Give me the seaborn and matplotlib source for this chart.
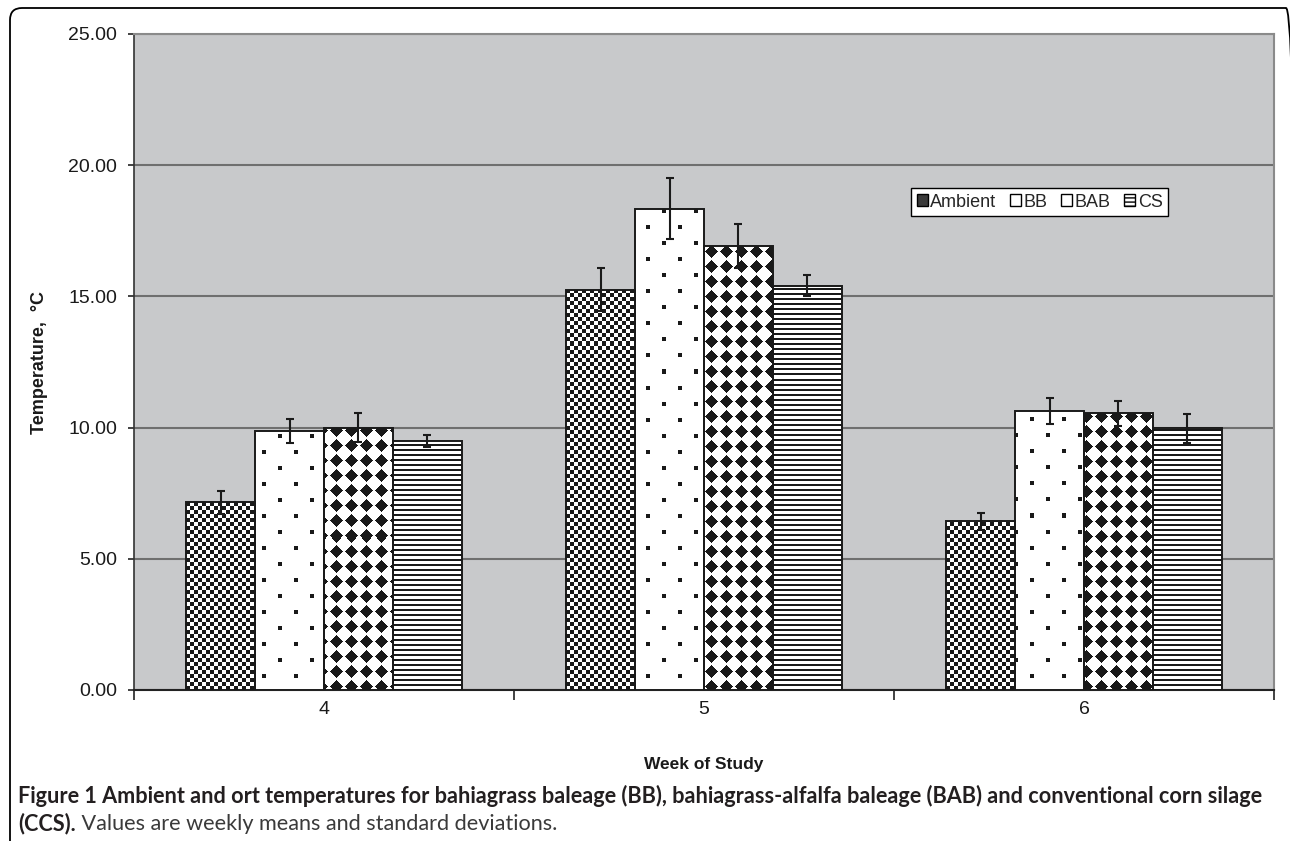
import numpy as np
import pandas as pd
import matplotlib.pyplot as plt
import matplotlib.transforms as mtransforms
import seaborn as sns
from matplotlib.patches import FancyBboxPatch, Patch

weeks = ['4', '5', '6']
series = ['Ambient', 'BB', 'BAB', 'CS']
ambient = [7.15, 15.26, 6.43]
bb = [9.87, 18.34, 10.64]
bab = [9.99, 16.91, 10.55]
cs = [9.48, 15.41, 9.97]
ambient_sd = [0.44, 0.82, 0.32]
bb_sd = [0.44, 1.17, 0.49]
bab_sd = [0.55, 0.84, 0.48]
cs_sd = [0.22, 0.40, 0.54]

df = pd.DataFrame({
    'week': weeks * 4,
    'series': np.repeat(series, 3),
    'temp': ambient + bb + bab + cs,
})
sd_map = dict(zip(series, [ambient_sd, bb_sd, bab_sd, cs_sd]))

sns.set_theme(style='white')
plt.rcParams['font.family'] = ['Liberation Sans', 'DejaVu Sans']

fig = plt.figure(figsize=(12.9, 8.41), dpi=100)
ax = fig.add_axes([134 / 1290, 1 - 690 / 841, 1140 / 1290, 656 / 841])

sns.barplot(data=df, x='week', y='temp', hue='series', order=weeks,
            hue_order=series, errorbar=None, width=0.725,
            palette={s: 'white' for s in series}, saturation=1,
            edgecolor='#1a1a1a', linewidth=1.4, legend=False, ax=ax, zorder=3)

# fill patterns (Excel style), drawn pixel by pixel and clipped to each bar
H, W = 656, 1140
yy, xx = np.indices((H, W))
masks = {
    'Ambient': ((xx // 4 + yy // 4) % 2 == 0),
    'BB': (((xx % 32) < 4) & ((yy % 32) < 4)) | ((((xx + 16) % 32) < 4) & (((yy + 16) % 32) < 4)),
    'BAB': (np.abs((xx % 15) - 7) + np.abs((yy % 15) - 7)) <= 6,
    'CS': (yy % 5) < 2,
}

for name, cont in zip(series, ax.containers):
    img = np.ones((H, W, 3))
    img[masks[name]] = 0.1
    for p in cont:
        im = ax.imshow(img, extent=(-0.5, 2.5, 0, 25), origin='upper',
                       aspect='auto', interpolation='nearest', zorder=2.9)
        im.set_clip_path(p)
        p.set_facecolor('none')
        xc = p.get_x() + p.get_width() / 2
        i = int(round(xc))
        ax.errorbar(xc, p.get_height(), yerr=sd_map[name][i], fmt='none',
                    ecolor='#1a1a1a', elinewidth=1.5, capsize=3, capthick=1.5,
                    zorder=4)

ax.set_xlim(-0.5, 2.5)
ax.set_ylim(0, 25)
ax.set_facecolor('#c8c9cb')

yt = np.arange(0, 26, 5)
ax.set_yticks(yt)
ax.set_yticklabels([f'{v:.2f}' for v in yt])
ax.yaxis.grid(True, color='#6f6f6f', lw=1.5)
ax.xaxis.grid(False)
ax.set_axisbelow(True)

ax.set_xticks([0, 1, 2])
ax.set_xticklabels(weeks)
ax.set_xticks([-0.5, 0.5, 1.5, 2.5], minor=True)
ax.tick_params(axis='x', which='major', length=0, pad=8, labelsize=14, labelcolor='#1a1a1a')
ax.tick_params(axis='x', which='minor', length=7, width=1.2, direction='out', color='#222', bottom=True)
ax.tick_params(axis='y', length=4.3, width=1.2, direction='out', color='#222', pad=8,
               labelsize=14, labelcolor='#1a1a1a', left=True)

for s in ['top', 'right']:
    ax.spines[s].set_color('#8a8a8a')
    ax.spines[s].set_linewidth(1.5)
ax.spines['left'].set_color('#333333')
ax.spines['left'].set_linewidth(1.2)
ax.spines['bottom'].set_color('#222222')
ax.spines['bottom'].set_linewidth(1.5)

ax.set_xlabel('Week of Study', fontsize=12.5, weight='bold', color='#1a1a1a', va='center')
ax.xaxis.set_label_coords(0.5, -0.114)
ax.set_ylabel('Temperature,  \u00b0C', fontsize=13, weight='bold', color='#1a1a1a', va='center')
ax.yaxis.set_label_coords(-0.0825, 0.5)

handles = [
    Patch(facecolor='#3a3a3a', edgecolor='black', lw=1),
    Patch(facecolor='white', edgecolor='black', lw=1),
    Patch(facecolor='white', edgecolor='black', lw=1),
    Patch(facecolor='white', edgecolor='black', lw=1, hatch='----'),
]
leg = ax.legend(handles, series, ncol=4, loc='upper left', bbox_to_anchor=(0.682, 0.765),
                borderaxespad=0, frameon=True, fancybox=False, edgecolor='black',
                framealpha=1, handlelength=0.6, handleheight=0.6, handletextpad=0.15,
                columnspacing=0.75, borderpad=0.3, fontsize=13)
leg.get_frame().set_linewidth(1)

# outer rounded frame
frame = FancyBboxPatch((10, -30), 1288, 863, boxstyle='round,pad=0,rounding_size=12',
                       transform=mtransforms.IdentityTransform(), fill=False,
                       edgecolor='black', lw=1.3)
fig.add_artist(frame)

# caption
cap_fam = ['Lato', 'DejaVu Sans']
fig.text(18 / 1290, 1 - 796 / 841,
         'Figure 1 Ambient and ort temperatures for bahiagrass baleage (BB), '
         'bahiagrass-alfalfa baleage (BAB) and conventional corn silage',
         fontsize=15.6, weight='bold', va='center', ha='left', family=cap_fam, color='#231f20')
t2 = fig.text(18 / 1290, 1 - 824 / 841, '(CCS).', fontsize=15.6, weight='bold',
              va='center', ha='left', family=cap_fam, color='#231f20')
ax.annotate(' Values are weekly means and standard deviations.', xy=(1, 0.5),
            xycoords=t2, va='center', ha='left', fontsize=15.6, family=cap_fam,
            color='#3a3a3a', annotation_clip=False)

fig.savefig('out.png', dpi=100)
